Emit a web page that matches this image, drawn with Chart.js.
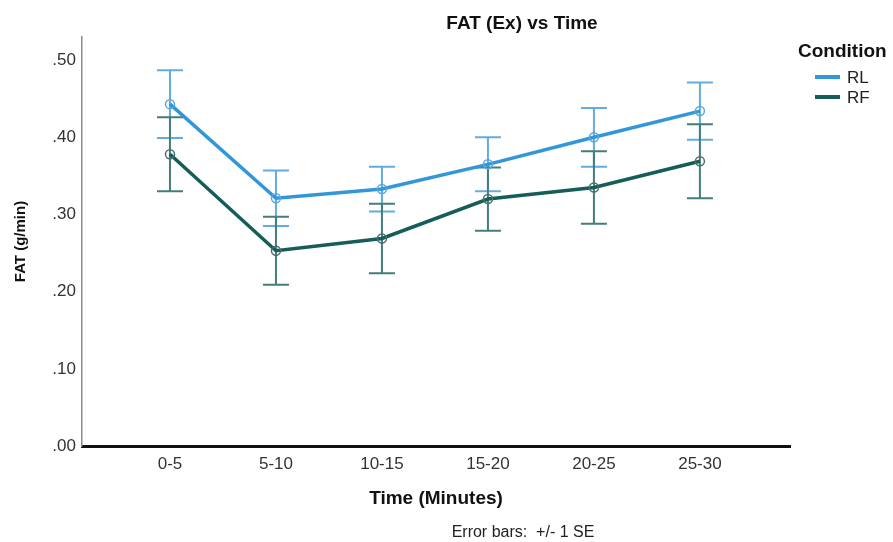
<!DOCTYPE html>
<html>
<head>
<meta charset="utf-8">
<script src="https://cdn.jsdelivr.net/npm/chart.js@4.4.1/dist/chart.umd.min.js"></script>
<style>
  html, body { margin: 0; padding: 0; background: #ffffff; }
  #wrap { width: 893px; height: 542px; position: relative; }
</style>
</head>
<body>
<div id="wrap"><canvas id="c" width="893" height="542"></canvas></div>
<script>
// Time windows (minutes)
const categories = ['0-5', '5-10', '10-15', '15-20', '20-25', '25-30'];

// Mean fat oxidation (g/min) and standard error per condition
const rlMean = [0.443, 0.321, 0.333, 0.365, 0.400, 0.434];
const rlSE   = [0.044, 0.036, 0.029, 0.035, 0.038, 0.037];
const rfMean = [0.378, 0.253, 0.269, 0.320, 0.335, 0.369];
const rfSE   = [0.048, 0.044, 0.045, 0.041, 0.047, 0.048];

const yTicks = [0, 0.1, 0.2, 0.3, 0.4, 0.5];

const FONT = "'Liberation Sans', Arial, sans-serif";
const RL_LINE = '#3196da';
const RF_LINE = '#145d58';
const RL_BAR = '#63acdd';
const RF_BAR = '#427f7b';

const toPoints = (arr) => arr.map((v, i) => ({ x: i, y: v }));

// Vertical +/- 1 SE bars with caps, drawn through the chart scales
const errorBars = {
  id: 'errorBars',
  beforeDatasetsDraw(chart) {
    const ctx = chart.ctx;
    const xs = chart.scales.x, ys = chart.scales.y;
    chart.data.datasets.forEach((ds) => {
      ctx.save();
      ctx.strokeStyle = ds.errorColor;
      ctx.lineWidth = 2;
      ds.data.forEach((p, i) => {
        const se = ds.se[i];
        const x = xs.getPixelForValue(p.x);
        const yTop = ys.getPixelForValue(p.y + se);
        const yBot = ys.getPixelForValue(p.y - se);
        ctx.beginPath();
        ctx.moveTo(x, yTop); ctx.lineTo(x, yBot);
        ctx.moveTo(x - 13, yTop); ctx.lineTo(x + 13, yTop);
        ctx.moveTo(x - 13, yBot); ctx.lineTo(x + 13, yBot);
        ctx.stroke();
      });
      ctx.restore();
    });
  }
};

// Title, legend and footnote text
const annotations = {
  id: 'annotations',
  afterDraw(chart) {
    const ctx = chart.ctx;
    ctx.save();
    ctx.fillStyle = '#111';
    ctx.textBaseline = 'middle';
    ctx.textAlign = 'center';
    ctx.font = 'bold 19px ' + FONT;
    ctx.fillText('FAT (Ex) vs Time', 522, 24);

    ctx.font = '16px ' + FONT;
    ctx.fillStyle = '#222';
    ctx.fillText('Error bars:  +/- 1 SE', 523, 533);

    // legend
    ctx.textAlign = 'left';
    ctx.fillStyle = '#111';
    ctx.font = 'bold 19px ' + FONT;
    ctx.fillText('Condition', 798, 52);
    ctx.font = '17px ' + FONT;
    chart.data.datasets.forEach((ds, k) => {
      const y = 77 + k * 20;
      ctx.strokeStyle = ds.borderColor;
      ctx.lineWidth = 4;
      ctx.beginPath();
      ctx.moveTo(815, y); ctx.lineTo(840, y);
      ctx.stroke();
      ctx.fillStyle = '#222';
      ctx.fillText(ds.label, 847, y + 1);
    });
    ctx.restore();
  }
};

new Chart(document.getElementById('c'), {
  type: 'line',
  data: {
    datasets: [
      {
        label: 'RL',
        data: toPoints(rlMean),
        se: rlSE,
        errorColor: RL_BAR,
        borderColor: RL_LINE,
        backgroundColor: RL_LINE,
        borderWidth: 3.5,
        pointRadius: 4.5,
        pointBorderWidth: 1.5,
        pointBorderColor: '#5aa8dc',
        pointBackgroundColor: 'rgba(255,255,255,0)',
        tension: 0
      },
      {
        label: 'RF',
        data: toPoints(rfMean),
        se: rfSE,
        errorColor: RF_BAR,
        borderColor: RF_LINE,
        backgroundColor: RF_LINE,
        borderWidth: 3.5,
        pointRadius: 4.5,
        pointBorderWidth: 1.5,
        pointBorderColor: '#4b6f6c',
        pointBackgroundColor: 'rgba(255,255,255,0)',
        tension: 0
      }
    ]
  },
  options: {
    responsive: false,
    animation: false,
    devicePixelRatio: 1,
    layout: { padding: { top: 37, right: 103, bottom: 0, left: 0 } },
    plugins: {
      legend: { display: false },
      title: { display: false },
      tooltip: { enabled: false }
    },
    scales: {
      x: {
        type: 'linear',
        min: -0.83,
        max: 5.85,
        grid: { display: false, drawTicks: false },
        border: { display: true, color: '#111', width: 3 },
        afterBuildTicks: (s) => { s.ticks = categories.map((c, i) => ({ value: i })); },
        afterFit: (s) => { s.height = 96; },
        ticks: {
          autoSkip: false,
          maxRotation: 0,
          padding: 8,
          color: '#333',
          font: { family: FONT, size: 17 },
          callback: (v) => categories[v]
        },
        title: {
          display: true,
          text: 'Time (Minutes)',
          color: '#111',
          font: { family: FONT, size: 19, weight: 'bold' },
          padding: { top: 0, bottom: 32 }
        }
      },
      y: {
        min: 0,
        max: 0.53,
        grid: { display: false, drawTicks: false },
        border: { display: true, color: '#8a8a8a', width: 1.5 },
        afterBuildTicks: (s) => { s.ticks = yTicks.map((v) => ({ value: v })); },
        afterFit: (s) => { s.width = 82; },
        ticks: {
          padding: 6,
          color: '#333',
          font: { family: FONT, size: 17 },
          callback: (v) => v.toFixed(2).replace(/^0/, '')
        },
        title: {
          display: true,
          text: 'FAT (g/min)',
          color: '#111',
          font: { family: FONT, size: 15, weight: 'bold' },
          padding: { top: 12, bottom: 0 }
        }
      }
    }
  },
  plugins: [errorBars, annotations]
});
</script>
</body>
</html>
